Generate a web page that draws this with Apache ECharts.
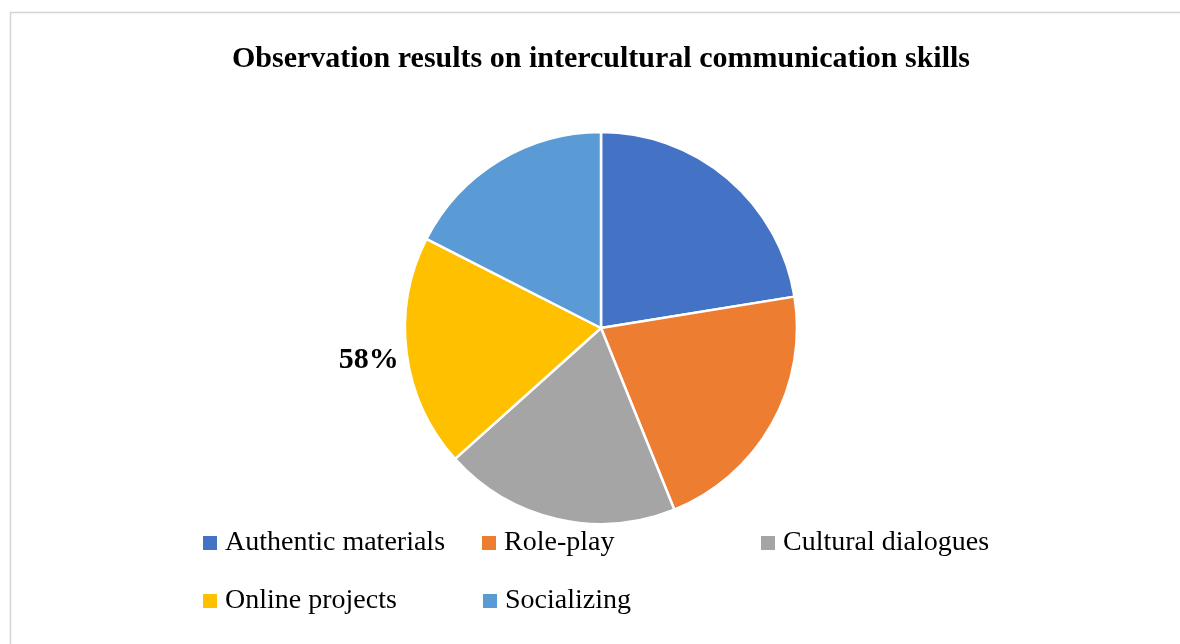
<!DOCTYPE html>
<html>
<head>
<meta charset="utf-8">
<script src="https://cdn.jsdelivr.net/npm/echarts@6/dist/echarts.min.js"></script>
<style>html,body{margin:0;padding:0;background:#fff}#c{width:1180px;height:644px}</style>
</head>
<body>
<div id="c"></div>
<script>
const categories = ['Authentic materials', 'Role-play', 'Cultural dialogues', 'Online projects', 'Socializing'];
const values = [68, 65, 59, 58, 53];
const colors = ['#4472C4', '#ED7D31', '#A5A5A5', '#FFC000', '#5B9BD5'];
const labelledCategory = 'Online projects';
const titleText = 'Observation results on intercultural communication skills';

const serif = '"Liberation Serif", "Times New Roman", serif';
const legendPos = [
  { left: 201, top: 529 },
  { left: 480, top: 529 },
  { left: 759, top: 529 },
  { left: 201, top: 587 },
  { left: 481, top: 587 }
];

const chart = echarts.init(document.getElementById('c'));
chart.setOption({
  backgroundColor: '#fff',
  animation: false,
  color: colors,
  title: {
    text: titleText,
    left: 601,
    top: 44,
    textAlign: 'center',
    padding: 0,
    textStyle: { fontFamily: serif, fontWeight: 'bold', fontSize: 30, color: '#000' }
  },
  graphic: [{
    type: 'rect',
    shape: { x: 10.5, y: 12.5, width: 1300, height: 800 },
    style: { fill: 'none', stroke: '#d4d4d4', lineWidth: 1.5 },
    silent: true
  }],
  legend: categories.map((name, i) => ({
    data: [name],
    left: legendPos[i].left,
    top: legendPos[i].top,
    padding: 0,
    icon: 'rect',
    itemWidth: 16,
    itemHeight: 16,
    selectedMode: false,
    textStyle: { fontFamily: serif, fontSize: 28, color: '#000', padding: [0, 0, 0, 2] }
  })),
  series: [{
    type: 'pie',
    center: [601, 328],
    radius: 196,
    startAngle: 90,
    clockwise: true,
    avoidLabelOverlap: false,
    itemStyle: { borderColor: '#fff', borderWidth: 2.5 },
    label: { show: false },
    labelLine: { show: false },
    labelLayout: { dy: 6, dx: 2 },
    emphasis: { disabled: true },
    data: categories.map((name, i) => {
      const item = { name: name, value: values[i] };
      if (name === labelledCategory) {
        item.label = {
          show: true,
          position: 'outside',
          formatter: '{c}%',
          fontFamily: serif,
          fontWeight: 'bold',
          fontSize: 30,
          color: '#000'
        };
        item.labelLine = { show: false, length: 5, length2: 0 };
      }
      return item;
    })
  }]
});
</script>
</body>
</html>
